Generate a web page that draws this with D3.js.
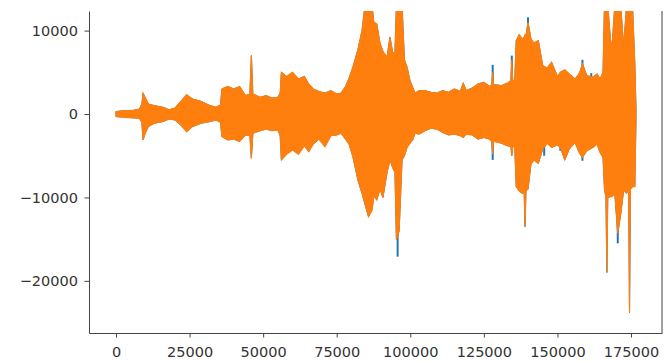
<!DOCTYPE html>
<html>
<head>
<meta charset="utf-8">
<script src="https://cdn.jsdelivr.net/npm/d3@7"></script>
<style>
  body { margin: 0; background: #fff; }
  svg { display: block; }
</style>
</head>
<body>
<div id="chart"></div>
<script>
// envelope of the waveform: sample index, upper and lower peak per block
const envSample = [
    0, 3000, 6000, 8000, 8800, 9200, 10000, 11000, 13000, 16000,
    18000, 20000, 22000, 24000, 26000, 29000, 32000, 34000, 35500, 36000,
    38000, 40000, 42000, 44000, 45500, 46000, 46500, 49000, 51000, 53000,
    55000, 55800, 56200, 58000, 60000, 62000, 64000, 65500, 67000, 69000,
    71000, 73000, 75000, 76500, 78000, 79200, 80500, 82200, 83600, 84600,
    85800, 87000, 87600, 88600, 89700, 90700, 92100, 93100, 94100, 94800,
    95300, 96200, 97200, 98000, 98900, 99900, 100800, 101600, 103000, 105000,
    107000, 109000, 111000, 113000, 115000, 117000, 118000, 119000, 121000, 123000,
    125000, 127000, 127700, 128000, 128300, 129000, 131000, 133000, 134200, 134500,
    134800, 135500, 136000, 137000, 138000, 138700, 139000, 139300, 140000, 141000,
    142000, 143500, 145000, 146500, 148000, 150000, 151000, 152500, 154000, 156000,
    157500, 158500, 160000, 162000, 163500, 164500, 165500, 166000, 166500, 166800,
    167100, 168000, 168500, 169500, 170500, 171500, 172500, 173500, 174200, 174500,
    174800, 175500, 176300, 176700
];
const envHigh = [
    300, 400, 450, 600, 1200, 2500, 1900, 1200, 1000, 800,
    500, 700, 1500, 2300, 1800, 1500, 1000, 800, 1100, 3000,
    3300, 3000, 3300, 2200, 2400, 7000, 2400, 2000, 2200, 1900,
    2000, 2500, 5000, 4500, 5000, 4200, 4500, 3600, 3000, 2700,
    2500, 2800, 2400, 2500, 3300, 4300, 5600, 7700, 10000, 13000,
    13000, 13000, 11000, 10800, 8500, 7500, 6800, 9200, 7200, 7500,
    13000, 13000, 13000, 6500, 5600, 4000, 3200, 2500, 2800, 2800,
    2600, 2500, 2800, 2600, 3000, 2700, 3700, 2800, 3100, 3600,
    3800, 3300, 3500, 5000, 3500, 3500, 3400, 3700, 4000, 6500,
    4000, 4000, 8800, 9500, 9000, 9200, 9500, 9300, 11000, 9000,
    8500, 8800, 5800, 5500, 6200, 4500, 5000, 5300, 4800, 4200,
    4900, 6000, 4600, 4400, 4800, 4200, 5000, 13000, 13000, 13000,
    13000, 9000, 7700, 13000, 13000, 13000, 8000, 13000, 13000, 13000,
    13000, 13000, 6000, 500
];
const envLow = [
    -300, -400, -450, -500, -1000, -3100, -2200, -1500, -1100, -900,
    -600, -700, -1300, -2100, -1500, -1100, -900, -700, -1000, -2700,
    -3100, -3000, -3300, -2500, -2600, -5300, -2300, -2000, -1800, -2000,
    -1900, -2600, -5500, -4800, -4300, -4800, -3800, -4500, -3600, -3000,
    -3900, -2600, -2500, -2300, -3000, -3600, -5100, -7900, -9500, -10800,
    -12300, -11500, -9800, -10300, -9000, -10000, -7000, -5500, -6500, -7000,
    -15100, -14000, -5500, -5000, -4000, -3500, -3100, -2300, -2400, -2000,
    -1700, -1800, -2200, -2500, -2400, -2600, -2800, -2400, -2500, -3000,
    -2800, -3000, -3300, -4800, -3300, -3300, -3500, -3800, -3900, -5000,
    -3900, -3900, -8700, -9200, -9500, -9400, -13500, -9200, -9000, -6000,
    -5500, -5900, -4200, -3500, -4000, -3700, -4000, -5500, -4200, -3400,
    -4700, -5200, -4400, -4000, -3600, -4600, -5200, -9000, -10000, -19000,
    -10000, -9900, -9900, -9500, -14300, -12000, -9100, -9500, -9000, -23800,
    -9000, -8700, -8700, -500
];

// second channel (blue) only shows where its peaks pass the orange ones
const blueTipSample = [95700, 128000, 128000, 134500, 140000, 145500, 151000, 158500, 158500, 161500, 170500];
const blueTipValue  = [-17100, 5900, -5500, 7000, 11600, -5000, -4400, 6500, -5600, 4900, -15500];

const xTicks = [0, 25000, 50000, 75000, 100000, 125000, 150000, 175000];
const yTicks = [-20000, -10000, 0, 10000];

const width = 664, height = 362;
const plot = {left: 89, right: 662, top: 11, bottom: 333};

const svg = d3.select("#chart")
    .append("svg")
        .attr("width", width)
        .attr("height", height);

const xScale = d3.scaleLinear()
    .domain([-9175, 185535])
    .range([plot.left, plot.right]);

const yScale = d3.scaleLinear()
    .domain([-26250, 12350])
    .range([plot.bottom, plot.top]);

svg.append("defs").append("clipPath")
    .attr("id", "plotClip")
    .append("rect")
        .attr("x", plot.left)
        .attr("y", plot.top)
        .attr("width", plot.right - plot.left)
        .attr("height", plot.bottom - plot.top);

const env = envSample.map((s, i) => ({s: s, hi: envHigh[i], lo: envLow[i]}));
const tips = blueTipSample.map((s, i) => ({s: s, v: blueTipValue[i]}));

const envArea = d3.area()
    .x(d => xScale(d.s))
    .y0(d => yScale(d.lo))
    .y1(d => yScale(d.hi));

const dataGroup = svg.append("g").attr("clip-path", "url(#plotClip)");

// blue channel (mostly hidden behind orange)
dataGroup.append("path")
    .datum(env)
    .attr("fill", "#1f77b4")
    .attr("stroke", "#1f77b4")
    .attr("stroke-width", 1)
    .attr("d", envArea);

dataGroup.selectAll("line.tip")
    .data(tips)
    .join("line")
        .attr("class", "tip")
        .attr("x1", d => xScale(d.s))
        .attr("x2", d => xScale(d.s))
        .attr("y1", yScale(0))
        .attr("y2", d => yScale(d.v))
        .attr("stroke", "#1f77b4")
        .attr("stroke-width", 2);

// orange channel on top
dataGroup.append("path")
    .datum(env)
    .attr("fill", "#ff7f0e")
    .attr("stroke", "#ff7f0e")
    .attr("stroke-width", 1.2)
    .attr("d", envArea);

// axes
svg.append("g")
    .attr("transform", `translate(0, ${plot.bottom})`)
    .call(d3.axisBottom(xScale)
        .tickValues(xTicks)
        .tickFormat(d3.format("d"))
        .tickSize(4.5)
        .tickSizeOuter(0)
        .tickPadding(9));

svg.append("g")
    .attr("transform", `translate(${plot.left}, 0)`)
    .call(d3.axisLeft(yScale)
        .tickValues(yTicks)
        .tickFormat(d3.format("d"))
        .tickSize(4.5)
        .tickSizeOuter(0)
        .tickPadding(6.5));

svg.selectAll(".tick text")
    .style("font-family", "'DejaVu Sans', sans-serif")
    .style("font-size", "14.5px")
    .attr("fill", "#333");

svg.selectAll(".tick line").attr("stroke", "#444");
svg.selectAll(".domain").attr("stroke", "#444");

// right spine
svg.append("line")
    .attr("x1", plot.right).attr("x2", plot.right)
    .attr("y1", plot.top).attr("y2", plot.bottom)
    .attr("stroke", "#444");
</script>
</body>
</html>
